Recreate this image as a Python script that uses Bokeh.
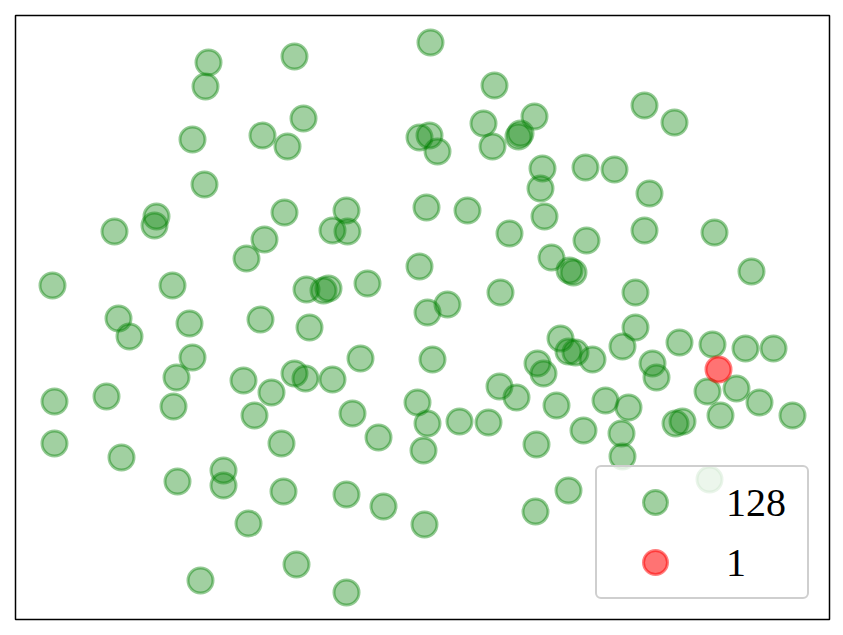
from bokeh.plotting import figure
from bokeh.models import Range1d, Legend, LegendItem, ColumnDataSource
from bokeh.embed import file_html
from bokeh.resources import INLINE

# Values (arbitrary units; y grows downward)
green_x = [208, 205, 192, 262, 287, 204, 294, 303, 430, 494, 419, 429, 437, 483, 492,
           520, 518, 534, 542, 540, 644, 674, 585, 614, 649,
           156, 154, 114, 284, 264, 246, 52, 172, 118, 129, 189, 260, 192, 176, 243,
           271, 54, 106, 173, 254, 294, 305, 346, 332, 347, 426, 467, 509, 544, 419,
           306, 323, 328, 367, 500, 551, 569, 573, 586, 427, 447, 309, 360, 432, 332,
           560, 568, 575, 537, 543, 499, 516, 556, 417, 352, 427, 459, 488, 644, 714,
           751, 635, 635, 592, 622, 679, 712, 745, 773, 652, 656, 707, 736, 759, 792,
           720, 675, 682, 605, 628, 583, 621,
           54, 121, 177, 223, 223, 281, 283, 248, 200, 296, 378, 423, 536, 346, 383,
           424, 535, 568, 346, 622, 709]
green_y = [62, 86, 139, 135, 146, 184, 56, 118, 42, 85, 137, 135, 151, 123, 146,
           133, 136, 116, 168, 188, 105, 122, 167, 169, 193,
           216, 225, 231, 212, 239, 258, 285, 285, 318, 336, 323, 319, 357, 377, 380,
           392, 401, 396, 406, 415, 373, 378, 210, 230, 231, 207, 210, 233, 216, 266,
           289, 290, 288, 283, 292, 257, 270, 272, 240, 312, 304, 327, 358, 359, 379,
           338, 351, 352, 363, 373, 386, 397, 405, 402, 413, 423, 421, 422, 230, 232,
           271, 292, 327, 359, 346, 342, 344, 348, 348, 363, 377, 391, 388, 402, 415,
           415, 423, 421, 400, 407, 430, 433,
           443, 457, 481, 470, 485, 443, 491, 523, 580, 564, 437, 450, 444, 494, 506,
           524, 511, 490, 592, 456, 479]
red_x = [718]
red_y = [369]
labels = [str(len(green_x)), str(len(red_x))]

p = figure(width=835, height=627, output_backend="svg", toolbar_location=None,
           x_axis_type=None, y_axis_type=None,
           x_range=Range1d(15, 829), y_range=Range1d(619, 15),
           min_border_left=15, min_border_top=15, min_border_right=6, min_border_bottom=8)
p.grid.visible = False
p.outline_line_color = "black"
p.outline_line_width = 1.5
p.outline_line_alpha = 1.0
p.background_fill_color = "white"
p.border_fill_color = "white"

g = p.scatter(x="x", y="y", source=ColumnDataSource(dict(x=green_x, y=green_y)),
              size=25, fill_color="green", fill_alpha=0.37,
              line_color="green", line_alpha=0.42, line_width=3)
r = p.scatter(x="x", y="y", source=ColumnDataSource(dict(x=red_x, y=red_y)),
              size=25, fill_color="red", fill_alpha=0.55,
              line_color="red", line_alpha=0.5, line_width=3)

legend = Legend(items=[LegendItem(label=labels[0], renderers=[g]),
                       LegendItem(label=labels[1], renderers=[r])],
                location="bottom_right", margin=20, padding=5, spacing=0,
                glyph_width=106, glyph_height=60, label_standoff=18,
                label_width=76, label_height=60,
                label_text_font="Liberation Serif", label_text_font_size="40px",
                label_text_color="black",
                border_line_color="#cfcfcf", border_line_width=2.5, border_line_alpha=1.0,
                background_fill_color="white", background_fill_alpha=0.8)
if "border_radius" in Legend.properties():
    legend.border_radius = 6
p.add_layout(legend)

open("out.html", "w").write(file_html(p, INLINE))
